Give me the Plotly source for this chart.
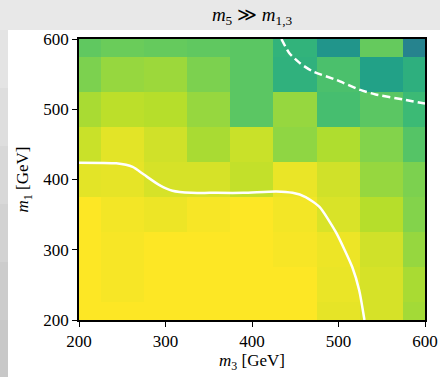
import plotly.graph_objects as go

m3_vals = [200, 250, 300, 350, 400, 450, 500, 550, 600]
m1_vals = [200, 250, 300, 350, 400, 450, 500, 550, 600]

# rows: m1 = 200 ... 600 (bottom to top); columns: m3 = 200 ... 600
z_vals = [
    [1.00, 1.00, 1.00, 1.00, 1.00, 1.00, 0.965, 0.94, 0.86],   # m1=200
    [1.00, 0.99, 1.00, 1.00, 1.00, 1.00, 0.97, 0.94, 0.87],    # m1=250
    [1.00, 0.99, 1.00, 1.00, 1.00, 0.99, 0.975, 0.93, 0.84],   # m1=300
    [1.00, 0.985, 0.975, 0.99, 1.00, 0.985, 0.945, 0.89, 0.81],# m1=350
    [0.96, 0.965, 0.94, 0.94, 0.91, 0.97, 0.93, 0.84, 0.80],   # m1=400
    [0.92, 0.96, 0.93, 0.87, 0.92, 0.83, 0.88, 0.81, 0.73],    # m1=450
    [0.87, 0.90, 0.89, 0.84, 0.74, 0.84, 0.70, 0.74, 0.68],    # m1=500
    [0.80, 0.84, 0.85, 0.80, 0.74, 0.64, 0.71, 0.57, 0.63],    # m1=550
    [0.75, 0.77, 0.76, 0.75, 0.74, 0.65, 0.52, 0.76, 0.45],    # m1=600
]

# solid white contour
solid_m3 = [200, 243, 262, 275, 293, 308, 330, 351, 390, 428, 447, 462, 478, 497, 516, 524, 530]
solid_m1 = [424, 423, 418, 407, 392, 384, 381, 381, 381, 383, 381, 375, 361, 325, 275, 242, 200]

# dashed white contour
dash_m3 = [434, 443, 455, 470, 497, 524, 543, 574, 600]
dash_m1 = [600, 580, 566, 554, 542, 528, 521, 514, 508]

fig = go.Figure()
fig.add_trace(go.Heatmap(
    x=m3_vals, y=m1_vals, z=z_vals,
    colorscale="Viridis", zmin=0.0, zmax=1.0,
    showscale=False, hoverinfo="skip",
))
fig.add_trace(go.Scatter(
    x=solid_m3, y=solid_m1, mode="lines",
    line=dict(color="white", width=2.5, shape="spline", smoothing=0.6),
    showlegend=False, hoverinfo="skip",
))
fig.add_trace(go.Scatter(
    x=dash_m3, y=dash_m1, mode="lines",
    line=dict(color="white", width=2.5, dash="8px,4px", shape="spline", smoothing=0.6),
    showlegend=False, hoverinfo="skip",
))

serif = "'Liberation Serif', 'DejaVu Serif', serif"
L, R, T, B = 79, 15, 39, 57
W, H = 440, 377
pw, ph = W - L - R, H - T - B

def px_x(px):
    return (px - L) / pw

def px_y(py):
    return (H - B - py) / ph

shapes = [
    dict(type="rect", xref="paper", yref="paper",
         x0=px_x(8), x1=px_x(441), y0=px_y(378), y1=px_y(30),
         fillcolor="white", line=dict(width=0), layer="below"),
]
greys = ["#e4e4e4", "#dedede", "#d8d8d8", "#d2d2d2", "#cccccc", "#c8c8c8"]
n = len(greys)
for i, g in enumerate(greys):
    y0p = 30 + (378 - 30) * i / n
    y1p = 30 + (378 - 30) * (i + 1) / n
    shapes.append(dict(type="rect", xref="paper", yref="paper",
                       x0=px_x(-1), x1=px_x(8), y0=px_y(y1p), y1=px_y(y0p),
                       fillcolor=g, line=dict(width=0), layer="below"))

fig.update_layout(
    width=W, height=H,
    margin=dict(l=L, r=R, t=T, b=B, autoexpand=False),
    paper_bgcolor="#e8e8e8",
    plot_bgcolor="white",
    font=dict(family=serif, size=17, color="black"),
    shapes=shapes,
    title=dict(text="<i>m</i><sub>5</sub> ≫ <i>m</i><sub>1,3</sub>",
               x=0.5, xref="paper", xanchor="center",
               y=1 - 14 / H, yanchor="middle",
               font=dict(family=serif, size=19, color="black")),
    xaxis=dict(
        range=[200, 600], tickvals=[200, 300, 400, 500, 600],
        ticks="outside", ticklen=5, tickwidth=1, tickcolor="black",
        showline=True, linecolor="black", linewidth=1.5, mirror=True,
        showgrid=False, zeroline=False, automargin=False,
        tickfont=dict(family=serif, size=17),
        title=dict(text="<i>m</i><sub>3</sub> [GeV]", standoff=4,
                   font=dict(family=serif, size=17)),
    ),
    yaxis=dict(
        range=[200, 600], tickvals=[200, 300, 400, 500, 600],
        ticks="outside", ticklen=5, tickwidth=1, tickcolor="black",
        showline=True, linecolor="black", linewidth=1.5, mirror=True,
        showgrid=False, zeroline=False, automargin=False,
        tickfont=dict(family=serif, size=17),
        title=dict(text="<i>m</i><sub>1</sub> [GeV]", standoff=10,
                   font=dict(family=serif, size=17)),
    ),
)

fig.write_html("out.html")
